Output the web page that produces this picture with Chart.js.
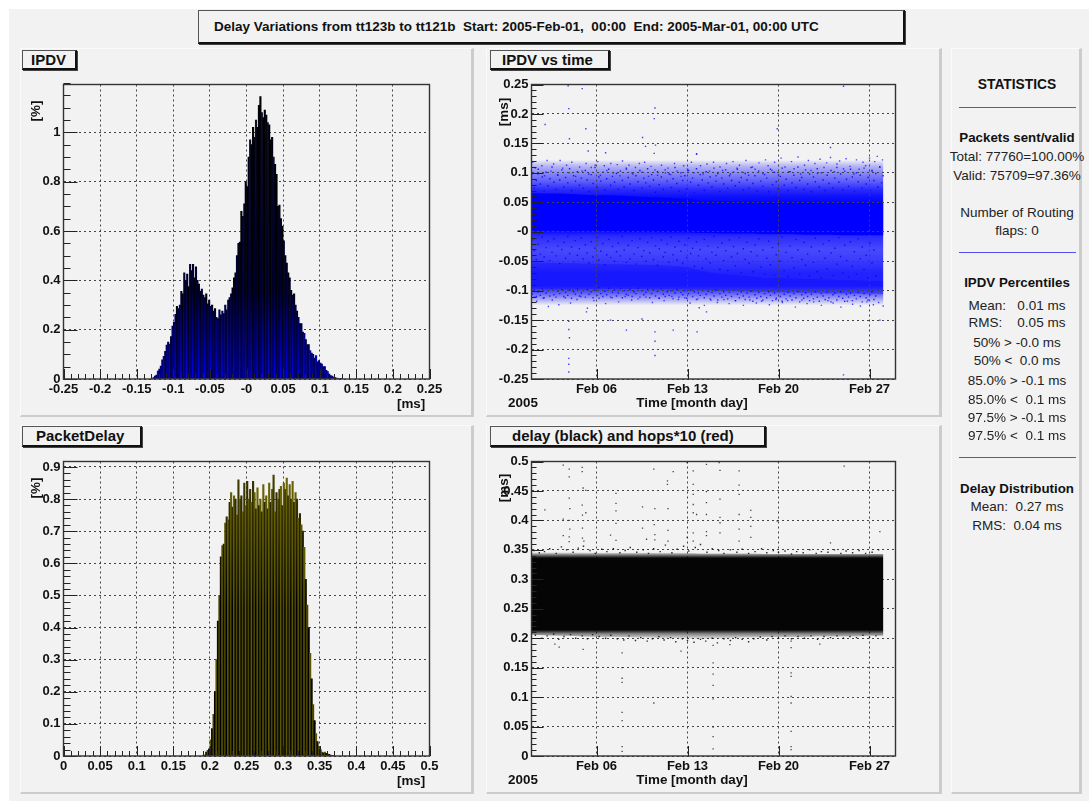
<!DOCTYPE html>
<html>
<head>
<meta charset="utf-8">
<script src="https://cdn.jsdelivr.net/npm/chart.js@4"></script>
<style>
  html, body { margin: 0; padding: 0; background: #fff; }
  body { width: 1089px; height: 801px; overflow: hidden; position: relative; font-family: "Liberation Sans", sans-serif; }
  #page { position: absolute; left: 0; top: 0; width: 1089px; height: 801px; filter: blur(0.45px); }
  #bg { position: absolute; left: 9px; top: 9px; right: 0; bottom: 0; background: #f2f2f2; }
  .panel { position: absolute; background: #f2f2f2; box-sizing: border-box; border-top: 1px solid #fafafa; border-left: 1px solid #fafafa; border-right: 3px solid #ccc; border-bottom: 2px solid #ccc; }
  .box { position: absolute; box-sizing: border-box; background: #f2f2f2; border: 1px solid #555; border-right: 2px solid #111; border-bottom: 2px solid #111; box-shadow: 1px 1px 0 #444; font-weight: bold; white-space: pre; color: #111; }
  canvas { position: absolute; }
  .t { position: absolute; white-space: pre; color: #111; transform: translateY(-50%); line-height: 1; }
  .b { font-weight: bold; font-size: 13.4px; }
  .rot { transform: translate(-50%, -50%) rotate(-90deg); }
  .c { transform: translate(-50%, -50%); }
  .rule { position: absolute; left: 959px; width: 117px; height: 1px; background: #5050f0; }
</style>
</head>
<body>
<div id="page">
  <div id="bg"></div>
  <div class="panel" style="left:20px;top:48px;width:454px;height:369px"></div>
  <div class="panel" style="left:486px;top:48px;width:456px;height:369px"></div>
  <div class="panel" style="left:20px;top:425px;width:454px;height:369px"></div>
  <div class="panel" style="left:486px;top:425px;width:456px;height:369px"></div>
  <div class="panel" style="left:951px;top:48px;width:131px;height:746px"></div>

  <div class="box" style="left:198px;top:10px;width:707px;height:34px;font-size:13.5px;line-height:31px;padding-left:15px">Delay Variations from tt123b to tt121b  Start: 2005-Feb-01,  00:00  End: 2005-Mar-01, 00:00 UTC</div>
  <div class="box" style="left:22px;top:50px;width:55px;height:20px;font-size:15px;line-height:17px;padding-left:8px">IPDV</div>
  <div class="box" style="left:490px;top:50px;width:120px;height:20px;font-size:15px;line-height:17px;padding-left:11px">IPDV vs time</div>
  <div class="box" style="left:22px;top:426px;width:120px;height:21px;font-size:15px;line-height:18px;padding-left:13px">PacketDelay</div>
  <div class="box" style="left:490px;top:426px;width:276px;height:21px;font-size:15px;line-height:18px;padding-left:21px">delay (black) and hops*10 (red)</div>

  <canvas id="ipdvHist" width="450" height="345" style="left:20px;top:70px"></canvas>
  <canvas id="ipdvTime" width="450" height="345" style="left:486px;top:70px"></canvas>
  <canvas id="delayHist" width="450" height="345" style="left:20px;top:447px"></canvas>
  <canvas id="delayTime" width="450" height="345" style="left:486px;top:447px"></canvas>

  <div class="t b" style="left:397px;top:404px">[ms]</div>
  <div class="t b" style="left:397px;top:781px">[ms]</div>
  <div class="t b rot" style="left:36px;top:111px">[%]</div>
  <div class="t b rot" style="left:36px;top:488px">[%]</div>
  <div class="t b rot" style="left:504px;top:112px">[ms]</div>
  <div class="t b rot" style="left:504px;top:488px">[ms]</div>
  <div class="t b c" style="left:692px;top:403px">Time [month day]</div>
  <div class="t b c" style="left:692px;top:780px">Time [month day]</div>
  <div class="t b c" style="left:523px;top:403px">2005</div>
  <div class="t b c" style="left:523px;top:780px">2005</div>

  <div id="stats"></div>
  <div class="rule" style="top:107px"></div>
  <div class="rule" style="top:252px"></div>
  <div class="rule" style="top:457px"></div>
</div>

<script>
  // histogram bins, 0.002 ms wide
  const ipdvFirstBin = -0.129;
  const delayFirstBin = 0.191;
  const binWidth = 0.002;
  const ipdvPercent = [
    .002,.006,.012,.016,.032,.040,.052,.078,.092,.112,.138,.150,.142,.172,.215,.230,.262,.295,.285,.300,
    .355,.345,.430,.400,.425,.375,.465,.440,.465,.410,.455,.400,.385,.355,.365,.340,.330,.345,.305,.320,
    .295,.300,.275,.285,.250,.245,.280,.260,.275,.265,.300,.280,.320,.330,.345,.370,.410,.430,.500,.550,
    .555,.680,.660,.710,.800,.780,.900,.970,.950,1.02,.980,1.05,1.02,1.11,1.145,1.08,1.06,1.09,1.07,1.04,
    1.03,.970,.980,.900,.870,.830,.700,.705,.650,.620,.560,.500,.470,.430,.410,.360,.340,.345,.300,.275,
    .250,.225,.225,.190,.185,.160,.140,.140,.115,.105,.100,.085,.095,.070,.075,.065,.060,.050,.050,.035,
    .030,.020,.014,.012,.008,.006,.004,.003,.002,.001
  ];
  const delayPercent = [
    .002,.004,.012,.018,.022,.050,.085,.130,.200,.300,.420,.500,.620,.655,.660,.725,.745,.735,.790,.820,
    .775,.810,.800,.750,.860,.800,.810,.760,.850,.780,.855,.800,.830,.790,.855,.820,.770,.835,.780,.800,
    .760,.845,.790,.810,.770,.850,.790,.830,.875,.760,.820,.800,.830,.840,.780,.850,.830,.865,.810,.845,
    .800,.855,.790,.820,.800,.740,.755,.720,.700,.650,.550,.470,.400,.320,.240,.160,.110,.070,.045,.030,
    .020,.012,.010,.012,.008,.006,.005,.003,.002,.001
  ];

  // band edges of the dense scatter, one value per day from Feb 1 to Feb 28
  const bandDays = [0,1,2,3,4,5,6,7,8,9,10,11,12,13,14,15,16,17,18,19,20,21,22,23,24,25,26,27.07];
  const ipdvWideTop = [.125,.125,.125,.125,.125,.125,.125,.125,.125,.125,.125,.125,.125,.125,.125,.125,.125,.125,.125,.125,.125,.125,.125,.125,.125,.125,.125,.125];
  const ipdvWideLow = [-.125,-.125,-.125,-.125,-.125,-.125,-.125,-.125,-.125,-.125,-.125,-.125,-.125,-.125,-.125,-.125,-.125,-.125,-.125,-.125,-.125,-.125,-.125,-.125,-.125,-.125,-.125,-.125];
  const ipdvCoreTop = [.066,.065,.065,.064,.063,.062,.062,.061,.060,.059,.058,.057,.056,.053,.052,.052,.051,.051,.051,.051,.051,.051,.051,.050,.050,.050,.050,.050];
  const ipdvCoreLow = [.002,.002,.002,.001,.001,.001,.001,.000,.000,.000,-.001,-.001,-.001,-.002,-.002,-.003,-.003,-.003,-.004,-.004,-.004,-.005,-.005,-.005,-.006,-.006,-.006,-.006];
  const ipdvLowerTop = [-.052,-.052,-.053,-.053,-.054,-.054,-.055,-.055,-.056,-.056,-.057,-.058,-.060,-.066,-.070,-.072,-.074,-.076,-.078,-.078,-.079,-.080,-.080,-.081,-.082,-.082,-.083,-.083];
  const ipdvLowerLow = [-.097,-.098,-.098,-.098,-.098,-.097,-.097,-.097,-.097,-.097,-.098,-.098,-.098,-.099,-.100,-.100,-.101,-.102,-.102,-.103,-.103,-.104,-.104,-.105,-.105,-.105,-.106,-.106];
  const delayBandTop = [.346,.346,.346,.346,.346,.345,.345,.345,.345,.345,.345,.345,.345,.344,.344,.344,.344,.344,.343,.343,.343,.343,.343,.343,.343,.343,.343,.343];
  const delayBandLow = [.206,.205,.204,.204,.203,.202,.202,.202,.201,.201,.200,.200,.199,.198,.199,.200,.201,.201,.202,.202,.202,.202,.203,.203,.203,.203,.204,.204];

  // loose points along the upper and lower fringe of the IPDV band
  const ipdvFringeDay = [
    .1,.3,.5,.8,1,1.2,1.5,1.7,2,2.2,2.4,2.7,2.9,3.1,3.4,3.7,3.9,4.2,4.4,4.6,4.9,5.1,5.3,5.6,5.8,6.1,6.3,6.6,6.8,7,
    7.3,7.5,7.8,8,8.3,8.5,8.7,9,9.2,9.5,9.7,10,10.3,10.5,10.7,11,11.2,11.5,11.7,12,12.3,12.5,12.7,13,13.2,13.5,13.7,14,14.2,14.5,
    14.7,15,15.3,15.5,15.8,16,16.2,16.5,16.7,17,17.2,17.5,17.8,18,18.2,18.5,18.7,19,19.2,19.5,19.8,20,20.2,20.5,20.7,21,21.3,21.5,21.8,22,
    22.2,22.5,22.7,23,23.3,23.5,23.7,24,24.2,24.5,24.8,25,25.2,25.5,25.7,26,26.2,26.4,26.6,26.8,27,
    .2,.4,.9,1.3,1.6,2.1,2.6,3,3.5,3.8,4.3,4.8,5.2,5.7,6.2,6.7,7.2,7.7,8.2,8.8,9.3,9.8,10.2,10.8,11.3,11.8,12.2,12.8,13.3,13.8,
    14.3,14.8,15.2,15.7,16.3,16.8,17.3,17.7,18.3,18.8,19.3,19.7,20.3,20.8,21.2,21.7,22.3,22.8,23.2,23.8,24.3,24.7,25.3,25.8,26.3,26.7,27.05
  ];
  const ipdvFringeVal = [
    .118,.108,.098,.112,.095,.121,.103,.115,.097,.121,.108,.113,.100,.118,.094,.110,.103,.116,.098,.109,.113,.119,.096,.112,.104,.116,.100,.114,.095,.120,
    .106,.113,.098,.109,.116,.101,.118,.094,.111,.105,.096,.113,.100,.108,.097,.116,.103,.094,.112,.106,.118,.100,.132,.112,.098,.115,.103,.118,.095,.110,
    .104,.116,.098,.119,.108,.113,.101,.121,.096,.110,.106,.117,.099,.122,.112,.104,.118,.097,.125,.110,.102,.119,.107,.127,.098,.113,.121,.104,.116,.099,
    .123,.109,.117,.126,.102,.115,.120,.107,.124,.111,.098,.122,.106,.118,.112,.125,.103,.119,.128,.110,.122,
    -.111,-.118,-.113,-.127,-.116,-.124,-.112,-.121,-.115,-.110,-.130,-.117,-.113,-.122,-.112,-.119,-.110,-.116,-.114,-.111,-.120,-.113,-.117,-.110,-.115,-.112,-.121,-.114,-.125,-.116,
    -.120,-.115,-.122,-.117,-.125,-.116,-.121,-.118,-.124,-.115,-.120,-.117,-.128,-.116,-.122,-.119,-.125,-.117,-.121,-.128,-.118,-.123,-.126,-.119,-.124,-.120,-.126,-.121,-.125,-.119,-.122
  ];
  // speckle inside the thinner parts of the band, estimated by eye
  const ipdvSpeckleDay = [
    .05,.22,.37,.52,.68,.83,.97,1.12,1.27,1.41,1.58,1.72,1.88,2.03,2.17,2.33,2.48,2.62,2.79,2.93,3.08,3.24,3.38,3.53,3.69,3.83,3.98,
    4.14,4.28,4.43,4.59,4.73,4.88,5.04,5.18,5.33,5.49,5.64,5.78,5.94,6.09,6.23,6.39,6.54,6.68,6.84,6.99,7.13,7.29,7.44,7.58,7.74,7.89,
    8.03,8.19,8.34,8.48,8.64,8.79,8.93,9.09,9.24,9.38,9.54,9.69,9.83,9.99,10.14,10.28,10.44,10.59,10.73,10.89,11.04,11.18,11.34,11.49,
    11.63,11.79,11.94,12.08,12.24,12.39,12.53,12.69,12.84,12.98,13.14,13.29,13.43,13.59,13.74,13.88,14.04,14.19,14.33,14.49,14.64,14.78,
    14.94,15.09,15.23,15.39,15.54,15.68,15.84,15.99,16.13,16.29,16.44,16.58,16.74,16.89,17.03,17.19,17.34,17.48,17.64,17.79,17.93,18.09,
    18.24,18.38,18.54,18.69,18.83,18.99,19.14,19.28,19.44,19.59,19.73,19.89,20.04,20.18,20.34,20.49,20.63,20.79,20.94,21.08,21.24,21.39,
    21.53,21.69,21.84,21.98,22.14,22.29,22.43,22.59,22.74,22.88,23.04,23.19,23.33,23.49,23.64,23.78,23.94,24.09,24.23,24.39,24.54,24.68,
    24.84,24.99,25.13,25.29,25.44,25.58,25.74,25.89,26.03,26.19,26.34,26.48,26.64,26.79,26.93,27.05
  ];
  const ipdvSpeckleUpper = [
    .098,.074,.087,.106,.081,.093,.069,.101,.078,.090,.110,.084,.072,.096,.088,.105,.076,.092,.083,.107,.070,.095,.086,.102,.079,.091,.074,
    .104,.088,.068,.097,.082,.109,.075,.093,.086,.101,.071,.090,.106,.079,.094,.084,.099,.072,.103,.087,.076,.108,.092,.081,.100,.070,
    .095,.085,.104,.074,.091,.083,.107,.077,.097,.088,.067,.102,.080,.093,.072,.105,.086,.098,.075,.090,.109,.082,.069,.100,.087,
    .095,.073,.104,.084,.091,.066,.107,.079,.097,.088,.070,.102,.083,.093,.076,.108,.086,.099,.068,.091,.081,.105,.074,.095,.087,.101,
    .078,.106,.084,.092,.071,.099,.088,.074,.109,.082,.095,.069,.103,.086,.077,.097,.091,.068,.106,.080,.101,.085,.073,.094,.108,.079,
    .089,.070,.102,.083,.096,.075,.110,.087,.092,.072,.105,.081,.098,.068,.093,.085,.107,.076,.100,.088,.070,.096,.082,.104,.074,.091,.109,
    .084,.098,.071,.103,.089,.077,.106,.093,.069,.100,.085,.096,.074,.108,.081,.092,.070,.104,.087,.099,.076,.110,.083,.095,.072,.101,
    .088,.106,.078,.094,.070,.103,.085,.098,.074,.109,.090,.081
  ];
  const ipdvSpeckleMiddle = [
    -.014,-.032,-.047,-.021,-.038,-.009,-.043,-.027,-.016,-.049,-.035,-.012,-.041,-.024,-.054,-.030,-.018,-.045,-.008,-.037,-.026,-.051,-.015,-.040,-.029,-.011,-.046,
    -.022,-.036,-.053,-.017,-.043,-.028,-.010,-.048,-.033,-.020,-.056,-.039,-.013,-.044,-.025,-.050,-.034,-.019,-.041,-.008,-.031,-.052,-.023,-.046,-.015,-.038,
    -.055,-.027,-.012,-.042,-.032,-.050,-.018,-.036,-.010,-.047,-.024,-.057,-.029,-.014,-.043,-.035,-.021,-.052,-.009,-.039,-.026,-.048,-.016,-.033,
    -.054,-.022,-.044,-.011,-.037,-.028,-.059,-.017,-.041,-.030,-.062,-.013,-.046,-.024,-.053,-.035,-.008,-.040,-.027,-.064,-.019,-.049,
    -.032,-.066,-.014,-.043,-.025,-.058,-.037,-.010,-.070,-.029,-.047,-.018,-.054,-.034,-.068,-.022,-.041,-.012,-.060,-.031,-.072,-.045,
    -.016,-.056,-.027,-.074,-.039,-.020,-.050,-.009,-.066,-.035,-.076,-.024,-.044,-.061,-.013,-.031,-.072,-.047,-.018,-.057,-.038,-.075,
    -.026,-.052,-.011,-.068,-.033,-.078,-.021,-.045,-.063,-.015,-.036,-.074,-.028,-.055,-.010,-.042,-.070,-.023,-.049,-.077,-.017,-.059,
    -.034,-.072,-.012,-.046,-.026,-.064,-.040,-.079,-.019,-.053,-.031,-.075
  ];
  const ipdvSpeckleLower = [
    -.106,-.099,-.110,-.102,-.108,-.097,-.112,-.104,-.100,-.109,-.096,-.107,-.111,-.101,-.105,-.098,-.110,-.103,-.108,-.099,-.113,-.102,-.106,-.097,-.109,-.104,-.100,
    -.111,-.098,-.106,-.102,-.112,-.099,-.108,-.095,-.105,-.110,-.101,-.107,-.096,-.111,-.103,-.099,-.109,-.104,-.097,-.112,-.100,-.106,-.108,-.098,-.110,-.102,
    -.105,-.096,-.111,-.100,-.107,-.103,-.098,-.112,-.105,-.099,-.109,-.101,-.113,-.097,-.106,-.110,-.102,-.108,-.100,-.114,-.104,-.098,-.111,-.103,
    -.107,-.100,-.113,-.105,-.099,-.110,-.102,-.115,-.104,-.108,-.100,-.112,-.106,-.101,-.114,-.103,-.109,-.099,-.116,-.105,-.111,-.102,
    -.108,-.114,-.103,-.110,-.100,-.117,-.106,-.112,-.102,-.109,-.115,-.104,-.111,-.101,-.118,-.107,-.113,-.103,-.110,-.116,-.105,-.112,
    -.102,-.108,-.117,-.104,-.113,-.100,-.110,-.118,-.106,-.114,-.103,-.109,-.116,-.105,-.112,-.101,-.119,-.107,-.113,-.104,-.110,-.117,
    -.106,-.114,-.102,-.111,-.118,-.105,-.109,-.115,-.103,-.112,-.119,-.107,-.104,-.116,-.110,-.102,-.113,-.118,-.106,-.111,-.104,-.117,
    -.108,-.114,-.103,-.110,-.119,-.105,-.112,-.116,-.107,-.102,-.115,-.109
  ];
  const ipdvOutlierDay = [2.82,3.9,2.87,2.92,1.05,4.18,9.5,9.44,8.54,8.77,9.54,4.36,5.7,18.9,23,24,12.7,9.44,2.87,2.87,2.92,2.87,2.87,2.87,6.08,7.3,8.5,9.5,9.5,9.5,10.9,12.74,13.46,24,26.8,4.23,12.9];
  const ipdvOutlierVal = [.248,.243,.209,.158,.182,.175,.21,.192,.16,.145,.147,.137,.134,.175,.143,.247,.132,.133,-.152,-.166,-.18,-.215,-.225,-.238,-.15,-.167,-.148,-.17,-.186,-.21,-.167,-.17,-.136,-.243,-.15,-.136,-.129];

  const delayFringeDay = [
    .2,.6,1,1.4,1.9,2.3,2.7,3.2,3.6,4,4.5,4.9,5.4,5.8,6.3,6.8,7.2,7.6,8.1,8.6,9,9.4,9.9,10.3,10.8,11.2,11.7,12.1,12.6,13,13.5,13.9,14.4,14.8,15.3,15.8,16.2,16.7,17.2,17.7,18.1,18.6,19,19.5,20,20.4,20.9,21.4,21.9,22.3,22.8,23.3,23.8,24.2,24.7,25.2,25.7,26.2,26.7,
    .3,.8,1.2,1.7,2.1,2.5,3,3.4,3.9,4.3,4.7,5.2,5.7,6.1,6.6,7.1,7.5,8,8.4,8.9,9.3,9.8,10.2,10.7,11.1,11.6,12,12.5,13,13.4,13.9,14.3,14.8,15.3,15.7,16.2,16.7,17.1,17.6,18.1,18.5,19,19.5,20,20.5,21,21.5,22,22.5,23,23.5,24,24.5,25,25.5,26,26.5
  ];
  const delayFringeVal = [
    .349,.345,.347,.352,.344,.355,.350,.346,.353,.356,.349,.344,.351,.347,.352,.345,.349,.354,.346,.350,.344,.352,.347,.358,.345,.351,.356,.348,.354,.359,.346,.352,.349,.344,.350,.346,.351,.344,.347,.352,.345,.349,.346,.348,.343,.347,.345,.350,.344,.347,.346,.350,.344,.348,.345,.349,.344,.346,.350,
    .205,.200,.204,.207,.198,.203,.206,.200,.204,.199,.206,.203,.200,.205,.199,.197,.204,.196,.201,.195,.199,.203,.197,.201,.194,.199,.196,.193,.198,.195,.200,.192,.199,.196,.201,.198,.194,.199,.202,.197,.203,.200,.204,.199,.203,.200,.204,.198,.203,.201,.204,.200,.203,.201,.205,.202,.204
  ];
  const delayOutlierDay = [2.44,2.9,2.9,3.9,3.9,3.97,4.18,1.03,2.9,2.95,3.9,4.18,3.92,2.44,2.9,2.95,2.9,2.9,2.44,3.92,3.92,4.03,6.5,6.5,6.5,6.5,6.08,6.5,9.41,10.9,10.46,10.46,8.54,9.49,10.5,8.54,9.44,9.49,10.5,10.5,8.85,9.49,11.97,12.44,12.44,12.44,12.44,12.44,12.7,12.44,12.44,11.97,13.46,13.46,13.46,13.46,13.46,13.46,14.44,14.5,14.5,14.5,14.5,14.5,15.97,15.97,15.97,15.97,15.97,15.97,16.87,16.87,16.87,16.87,18.9,24.05,26.8,23,11.5,3.97,9.41,6.97,6.97,6.97,6.97,6.97,6.97,6.97,6.97,13.97,13.97,13.97,13.97,13.97,13.97,13.97,19.97,19.97,19.97,19.97,19.97,19.97,19.97,19.97,19.97,22.18,2.13,1.8,15.26,13.97];
  const delayOutlierVal = [.494,.487,.474,.49,.483,.455,.451,.418,.438,.42,.426,.413,.409,.402,.4,.385,.372,.364,.374,.387,.37,.365,.446,.429,.416,.395,.375,.366,.487,.483,.467,.461,.423,.42,.42,.387,.393,.376,.383,.365,.368,.367,.498,.484,.461,.444,.427,.413,.41,.379,.365,.371,.495,.449,.43,.41,.381,.374,.498,.485,.436,.405,.396,.379,.484,.46,.444,.41,.385,.365,.417,.405,.39,.371,.399,.492,.381,.362,.178,.181,.09,.175,.15,.132,.125,.074,.06,.016,.008,.158,.139,.12,.097,.049,.033,.012,.195,.184,.141,.135,.101,.09,.042,.016,.011,.19,.185,.19,.189,.188];

  // tick values and the labels printed for them
  const ipdvXTicks = [-.25,-.2,-.15,-.1,-.05,0,.05,.1,.15,.2,.25];
  const ipdvXLabels = ['-0.25','-0.2','-0.15','-0.1','-0.05','-0','0.05','0.1','0.15','0.2','0.25'];
  const ipdvYTicks = [0,.2,.4,.6,.8,1];
  const ipdvYLabels = ['0','0.2','0.4','0.6','0.8','1'];
  const timeTicks = [5,12,19,26];
  const timeLabels = ['Feb 06','Feb 13','Feb 20','Feb 27'];
  const ipdvTimeYTicks = [-.25,-.2,-.15,-.1,-.05,0,.05,.1,.15,.2,.25];
  const ipdvTimeYLabels = ['-0.25','-0.2','-0.15','-0.1','-0.05','-0','0.05','0.1','0.15','0.2','0.25'];
  const delayXTicks = [0,.05,.1,.15,.2,.25,.3,.35,.4,.45,.5];
  const delayXLabels = ['0','0.05','0.1','0.15','0.2','0.25','0.3','0.35','0.4','0.45','0.5'];
  const delayYTicks = [0,.1,.2,.3,.4,.5,.6,.7,.8,.9];
  const delayYLabels = ['0','0.1','0.2','0.3','0.4','0.5','0.6','0.7','0.8','0.9'];
  const delayTimeYTicks = [0,.05,.1,.15,.2,.25,.3,.35,.4,.45,.5];
  const delayTimeYLabels = ['0','0.05','0.1','0.15','0.2','0.25','0.3','0.35','0.4','0.45','0.5'];

  const statsLines = [
    ['STATISTICS', 85, true], ['Packets sent/valid', 138, true], ['Total: 77760=100.00%', 157], ['Valid: 75709=97.36%', 176],
    ['Number of Routing', 213], ['flaps: 0', 231], ['IPDV Percentiles', 283, true],
    ['Mean:   0.01 ms', 306], ['RMS:    0.05 ms', 323], ['50% > -0.0 ms', 343], ['50% <  0.0 ms', 361],
    ['85.0% > -0.1 ms', 381], ['85.0% <  0.1 ms', 400], ['97.5% > -0.1 ms', 418], ['97.5% <  0.1 ms', 436],
    ['Delay Distribution', 488.5, true], ['Mean:  0.27 ms', 507], ['RMS:  0.04 ms', 526]
  ];

  const statsEl = document.getElementById('stats');
  statsLines.forEach(([text, y, bold])=>{
    const d = document.createElement('div');
    d.className = 't c';
    d.textContent = text;
    d.style.left = '1017px';
    d.style.top = y + 'px';
    d.style.fontSize = bold ? '13.3px' : '13.5px';
    if (bold) d.style.fontWeight = 'bold';
    else d.style.color = '#222';
    statsEl.appendChild(d);
  });
  // STATISTICS heading is set a little larger
  statsEl.firstChild.style.fontSize = '13.8px';

  // ROOT style frame with tick marks pointing into the plot
  const frameTicks = {
    id: 'frameTicks',
    afterDraw(chart, _args, opts){
      const { ctx, chartArea: a, scales: { x, y } } = chart;
      ctx.save();
      ctx.strokeStyle = '#222';
      ctx.lineWidth = 1;
      ctx.beginPath();
      const marks = (scale, step, len, horizontal)=>{
        if (!step) return;
        const n = Math.round((scale.max - scale.min) / step);
        for (let i = 0; i <= n; i++) {
          const p = Math.round(scale.getPixelForValue(scale.min + i * step)) + 0.5;
          if (horizontal) { ctx.moveTo(p, a.bottom); ctx.lineTo(p, a.bottom - len); }
          else { ctx.moveTo(a.left, p); ctx.lineTo(a.left + len, p); }
        }
      };
      marks(x, opts.xMinor, 5, true);
      marks(y, opts.yMinor, opts.yMinorLen, false);
      x.ticks.forEach(t=>{
        const p = Math.round(x.getPixelForValue(t.value)) + 0.5;
        ctx.moveTo(p, a.bottom); ctx.lineTo(p, a.bottom - 10);
      });
      y.ticks.forEach(t=>{
        const p = Math.round(y.getPixelForValue(t.value)) + 0.5;
        ctx.moveTo(a.left, p); ctx.lineTo(a.left + opts.yMajorLen, p);
      });
      ctx.stroke();
      ctx.lineWidth = 1.4;
      ctx.strokeStyle = '#333';
      ctx.strokeRect(a.left, a.top, a.right - a.left, a.bottom - a.top);
      ctx.restore();
    }
  };

  function axis(min, max, values, labels, fitKey, fitSize, padding, gridZ){
    return {
      type: 'linear', min, max, offset: false,
      afterBuildTicks(s){ s.ticks = values.map(v=>({ value: v })); },
      afterFit(s){ s[fitKey] = fitSize; },
      border: { dash: [2, 3], display: false },
      grid: { color: '#444', lineWidth: 1, drawTicks: false, z: gridZ, offset: false },
      ticks: {
        autoSkip: false, minRotation: 0, maxRotation: 0, padding, color: '#111',
        font: { family: "'Liberation Sans'", size: 13, weight: 'bold' },
        callback: (_v, i)=> labels[i]
      }
    };
  }

  function makeChart(id, type, datasets, xAxis, yAxis, ticksCfg, top){
    return new Chart(document.getElementById(id), {
      type,
      data: { datasets },
      options: {
        responsive: false, animation: false,
        layout: { padding: { top, right: 40.5, left: 0, bottom: 0 } },
        scales: { x: xAxis, y: yAxis },
        plugins: { legend: { display: false }, tooltip: { enabled: false }, frameTicks: ticksCfg }
      },
      plugins: [frameTicks]
    });
  }

  function histData(first, values){
    return values.map((v, i)=>({ x: first + i * binWidth, y: v }));
  }
  // dark upper part, the fill colour only shows through low down
  function histFill(colors, cut){
    return (c)=>{
      const area = c.chart.chartArea;
      if (!area) return '#000';
      const g = c.chart.ctx.createLinearGradient(0, area.bottom, 0, area.top);
      const k = colors[c.dataIndex % colors.length];
      g.addColorStop(0, k[0]);
      g.addColorStop(cut, k[1]);
      g.addColorStop(1, k[2]);
      return g;
    };
  }
  function points(days, vals, color, r){
    return { type: 'scatter', data: vals.map((v, i)=>({ x: days[i], y: v })), backgroundColor: color, borderWidth: 0, pointStyle: 'rect', pointRadius: r };
  }
  function edge(days, vals, fill, color){
    return { type: 'line', data: days.map((d, i)=>({ x: d, y: vals[i] })), pointRadius: 0, borderWidth: 0, tension: 0, fill: fill || false, backgroundColor: color || 'rgba(0,0,0,0)' };
  }
  function band(days, top, low, color, idx){
    return [edge(days, top, { target: idx + 1 }, color), edge(days, low)];
  }
  // vertical alpha ramp in data units, how thick the points lie at each height
  function densityFill(rgb, stops){
    return (c)=>{
      const area = c.chart.chartArea;
      const y = c.chart.scales.y;
      if (!area || !y) return 'rgba(0,0,0,0)';
      const g = c.chart.ctx.createLinearGradient(0, area.top, 0, area.bottom);
      stops.forEach(([v, a])=>{
        const t = (y.getPixelForValue(v) - area.top) / (area.bottom - area.top);
        g.addColorStop(Math.min(1, Math.max(0, t)), `rgba(${rgb},${a})`);
      });
      return g;
    };
  }
  const ipdvDensity = [[.122,0],[.112,.24],[.098,.46],[.085,.62],[.072,.82],[.058,.95],[.045,1],[.004,1],[-.008,.82],[-.03,.7],[-.05,.76],[-.07,.86],[-.092,.86],[-.104,.62],[-.114,.32],[-.125,0]];
  const delayDensity = [[.346,0],[.342,.45],[.336,1],[.214,1],[.208,.5],[.198,0]];

  makeChart('ipdvHist', 'bar', [{
    data: histData(ipdvFirstBin, ipdvPercent),
    barPercentage: 1, categoryPercentage: 1,
    backgroundColor: histFill([
      ['#0000e8', '#000030', '#000000'], ['#000050', '#000000', '#000000'],
      ['#00008c', '#00003a', '#000000'], ['#000070', '#000010', '#12122e']
    ], 0.3),
    borderWidth: 0
  }],
    axis(-.25, .25, ipdvXTicks, ipdvXLabels, 'height', 36, 3, -1),
    axis(0, 1.194, ipdvYTicks, ipdvYLabels, 'width', 43.5, 3, -1),
    { xMinor: .01, yMinor: .05, yMajorLen: 14, yMinorLen: 7 }, 14.5);

  makeChart('delayHist', 'bar', [{
    data: histData(delayFirstBin, delayPercent),
    barPercentage: 1, categoryPercentage: 1,
    backgroundColor: histFill([
      ['#000000', '#000000', '#4c4700'], ['#5c5600', '#5c5600', '#6a6400'],
      ['#0c0b00', '#0c0b00', '#3c3800'], ['#4a4500', '#4a4500', '#6a6408']
    ], 0.5),
    borderWidth: 0
  }],
    axis(0, .5, delayXTicks, delayXLabels, 'height', 36, 3, -1),
    axis(0, .917, delayYTicks, delayYLabels, 'width', 43.5, 3, -1),
    { xMinor: .01, yMinor: .02, yMajorLen: 14, yMinorLen: 7 }, 14.5);

  makeChart('ipdvTime', 'line', [
    points(ipdvOutlierDay, ipdvOutlierVal, 'rgba(0,0,255,.75)', 1),
    points(ipdvFringeDay, ipdvFringeVal, 'rgba(0,0,255,.7)', 1),
    points(ipdvSpeckleDay, ipdvSpeckleUpper, 'rgba(0,0,255,.85)', 1),
    points(ipdvSpeckleDay, ipdvSpeckleMiddle, 'rgba(0,0,255,.85)', 1),
    points(ipdvSpeckleDay, ipdvSpeckleLower, 'rgba(0,0,255,.8)', 1),
    ...band(bandDays, ipdvCoreTop, ipdvCoreLow, '#0000ff', 5),
    ...band(bandDays, ipdvLowerTop, ipdvLowerLow, 'rgba(0,0,255,.3)', 7),
    ...band(bandDays, ipdvWideTop, ipdvWideLow, densityFill('0,0,255', ipdvDensity), 9)
  ],
    axis(0, 28, timeTicks, timeLabels, 'height', 36, 3, 1),
    axis(-.25, .25, ipdvTimeYTicks, ipdvTimeYLabels, 'width', 45.5, 3, 1),
    { yMinor: .01, yMajorLen: 12, yMinorLen: 5 }, 14.5);

  makeChart('delayTime', 'line', [
    points(delayOutlierDay, delayOutlierVal, 'rgba(20,20,20,.8)', 0.9),
    points(delayFringeDay, delayFringeVal, 'rgba(10,10,10,.85)', 1),
    ...band(bandDays, delayBandTop, delayBandLow, densityFill('5,5,5', delayDensity), 2)
  ],
    axis(0, 28, timeTicks, timeLabels, 'height', 36, 3, -1),
    axis(0, .5, delayTimeYTicks, delayTimeYLabels, 'width', 45.5, 3, -1),
    { yMinor: .01, yMajorLen: 12, yMinorLen: 5 }, 14.5);
</script>
</body>
</html>
